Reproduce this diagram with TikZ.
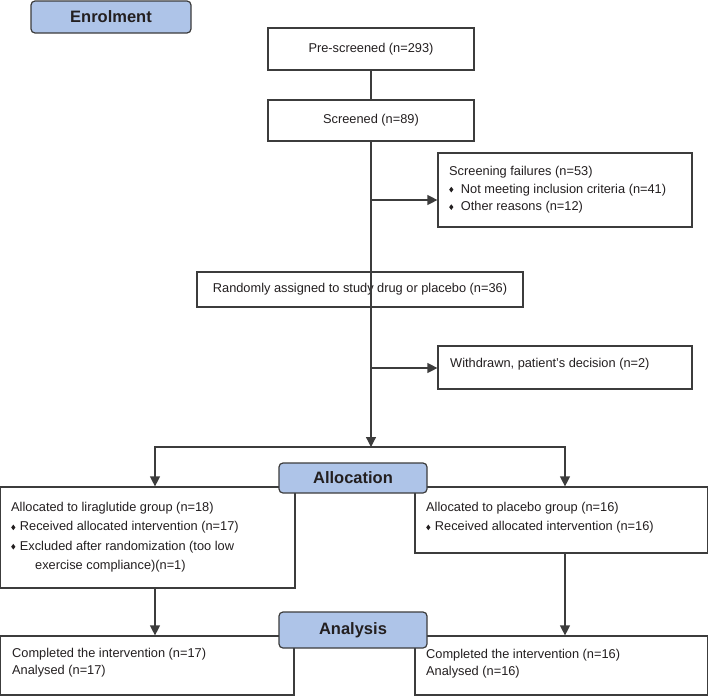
\documentclass[tikz,border=0pt]{standalone}
\usepackage{fontspec}
\setmainfont{Liberation Sans}
\usetikzlibrary{arrows.meta}

\definecolor{headblue}{HTML}{AEC4E8}
\definecolor{linegray}{HTML}{3C3C3C}
\definecolor{textdark}{HTML}{231F20}

% small diamond bullet
\newcommand{\dmd}{\tikz[baseline=-0.5ex]\fill[textdark] (0pt,2.8pt) -- (2.1pt,0pt) -- (0pt,-2.8pt) -- (-2.1pt,0pt) -- cycle;}

\begin{document}
\begin{tikzpicture}[x=1pt,y=-1pt,
  box/.style={draw=linegray, line width=1.2pt, fill=white, inner sep=0pt,
    font=\fontsize{12.8}{18}\selectfont, text=textdark},
  head/.style={draw=linegray, line width=1.2pt, fill=headblue, rounded corners=4pt,
    inner sep=0pt, font=\fontsize{16.5}{18}\selectfont\bfseries, text=textdark},
  txt/.style={font=\fontsize{12.8}{18}\selectfont, text=textdark, align=left,
    inner sep=0pt, anchor=base west},
  line/.style={line width=1.2pt, draw=linegray},
  arr/.style={line, -{Triangle[length=10pt,width=10pt]}}]

  \useasboundingbox (0,0) rectangle (709,696);

  % Enrolment
  \node[head, minimum width=160pt, minimum height=32pt] (enrol) at (111,17) {Enrolment};
  \node[box, minimum width=206pt, minimum height=42pt] (pre) at (371,49) {Pre-screened (n=293)};
  \node[box, minimum width=206pt, minimum height=41pt] (scr) at (371,120.5) {Screened (n=89)};

  % multi-line texts are placed at the baseline of their last line
  \node[box, minimum width=254pt, minimum height=74pt] (fail) at (565,190) {};
  \node[txt, font=\fontsize{12.8}{17.5}\selectfont] (failT) at (449,210.5)
    {Screening failures (n=53)\\
     \dmd\hspace{7.5pt}Not meeting inclusion criteria (n=41)\\
     \dmd\hspace{7.5pt}Other reasons (n=12)};

  \node[box, minimum width=326pt, minimum height=35pt] (rand) at (360,289.5)
    {Randomly assigned to study drug or placebo (n=36)};

  \node[box, minimum width=254pt, minimum height=43pt] (wd) at (565,367.5) {};
  \node[txt] (wdT) at (450,367.5) {Withdrawn, patient's decision (n=2)};

  % Allocation
  \node[box, minimum width=294.2pt, minimum height=101pt] (la) at (147.9,537.5) {};
  \node[txt, font=\fontsize{12.8}{19.3}\selectfont] (laT) at (11,569.4)
    {Allocated to liraglutide group (n=18)\\
     \dmd\hspace{4.5pt}Received allocated intervention (n=17)\\
     \dmd\hspace{4.5pt}Excluded after randomization (too low\\
     \hspace{24pt}exercise compliance)(n=1)};

  \node[box, minimum width=292.5pt, minimum height=66pt] (ra) at (561.25,520) {};
  \node[txt, font=\fontsize{12.8}{19.3}\selectfont] (raT) at (426,530.8)
    {Allocated to placebo group (n=16)\\
     \dmd\hspace{4.5pt}Received allocated intervention (n=16)};

  \node[head, minimum width=148pt, minimum height=30pt] (alloc) at (353,478) {Allocation};

  % Analysis
  \node[box, minimum width=293.2pt, minimum height=59pt] (lb) at (147.4,665.5) {};
  \node[txt, font=\fontsize{12.8}{17}\selectfont] (lbT) at (12,674.5)
    {Completed the intervention (n=17)\\Analysed (n=17)};

  \node[box, minimum width=292.5pt, minimum height=59pt] (rb) at (561.25,665.5) {};
  \node[txt, font=\fontsize{12.8}{17}\selectfont] (rbT) at (426,675)
    {Completed the intervention (n=16)\\Analysed (n=16)};

  \node[head, minimum width=148pt, minimum height=36pt] (anal) at (353,630) {Analysis};

  % connectors
  \coordinate (bus) at (371,447);
  \coordinate (busL) at (155,447);
  \coordinate (busR) at (565,447);
  \coordinate (j1) at (371,200);
  \coordinate (j2) at (371,368);

  \draw[line] (pre) -- (scr);
  \draw[arr] (scr.south) -- (bus);
  \draw[arr] (j1) -- (j1 -| fail.west);
  \draw[arr] (j2) -- (j2 -| wd.west);
  \draw[arr] (busR) -- (busL) -- (busL |- la.north);
  \draw[arr] (busL) -- (busR) -- (busR |- ra.north);
  \draw[arr] (busL |- la.south) -- (busL |- lb.north);
  \draw[arr] (busR |- ra.south) -- (busR |- rb.north);

\end{tikzpicture}
\end{document}
